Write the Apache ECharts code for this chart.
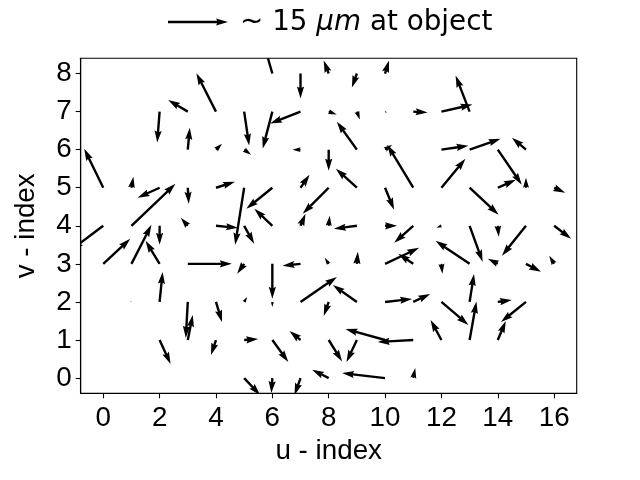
<!DOCTYPE html>
<html>
<head>
<meta charset="utf-8">
<script src="https://cdn.jsdelivr.net/npm/echarts@6/dist/echarts.min.js"></script>
<style>html,body{margin:0;padding:0;background:#fff}#c{width:640px;height:480px}</style>
</head>
<body>
<div id="c"></div>
<script>
// grid indices
const uIndex = [0,1,2,3,4,5,6,7,8,9,10,11,12,13,14,15,16];
const vIndex = [0,1,2,3,4,5,6,7,8];
const xTicks = [0,2,4,6,8,10,12,14,16];
const yTicks = [0,1,2,3,4,5,6,7,8];

// arrow components (µm at object), one row per v-index
const U0 = [0,0,0,0,0,4,-0.25,-1.5,-4.15,0,-10.75,0.5,0,0,0,0,0];
const V0 = [0,0,0,0,0,-4.25,-3.75,-4.25,2.1,0,1.25,2.5,0,0,0,0,0];
const U1 = [0,0,2.75,1.25,-1.25,3.5,4,-2.75,3.35,-2.6,-9.9,-8.9,-2.7,1.7,2,0,0];
const V1 = [0,0,-6,6.25,-3.75,0.25,-5.5,2.25,-5.4,-5.5,2.75,-0.5,5,9.6,4.75,0,0];
const U2 = [0,-0.25,0.75,-0.5,1.5,0.75,0,9.1,-1.25,-6,6.75,4.25,6.75,1.1,3.5,-6.25,0];
const V2 = [0,0.25,7.5,-9,-5,1.25,-1.25,6.25,-3.5,4.25,0.75,2,-5.75,7,0.5,-5,0];
const U3 = [6.75,5,-3.5,11,0,-1.75,0,-4.5,-1,0.25,8.5,-3.75,0.25,-8.5,-2.5,3.75,-1.25];
const V3 = [6.25,9.75,5.75,0,0,-2.5,-8.75,-0.5,1.5,3,4,2.5,-2.5,5.75,1.25,-2,2];
const U4 = [-8,11,0,-1.75,5.5,2.5,-4.5,1.25,0.25,-5.75,3,-4.75,-1.25,3.25,0.25,-6,4.25];
const V4 = [-6,10.5,-4.75,2,-0.5,-4.5,4.25,3,2.5,-0.75,0,-4.25,-0.5,-9,-2.75,-7.5,-3.25];
const U5 = [-4.75,0.5,-5.5,0.25,4.75,-2.25,-6.5,2.25,-6.5,-5.25,2.25,-6.5,6,7.25,4.5,0,2.75];
const V5 = [9.75,2.75,-2.5,-4,1.5,-14.25,-5.25,3.25,-6.5,4.75,-5.5,10.75,7.25,-6.75,2,2.5,-1.25];
const U6 = [0,0,0,0.5,1.5,1.75,0,-2,0,-5,1.75,0,6.75,7.75,6,-3.5,0];
const V6 = [0,0,0,5.5,1.5,-1.25,0,0,-5.25,7,1.25,0,1,2.75,-8.75,3,0];
const U7 = [0,0,-0.6,-4.9,-4.9,1.25,-2.4,-7.6,2,0.75,0.5,3.6,7.75,-3.5,0,0,0];
const V7 = [0,0,-7.75,2.9,9.6,-8.5,-9.25,-3,-0.75,-2,-0.25,-0.25,1.75,9,0,0,0];
const U8 = [0,0,0,0,0,0,-2,0,-1.25,-1.25,1,0,0,0,0,0,0];
const V8 = [0,0,0,0,0,0,7,-6.25,3.25,-3.5,3.25,0,0,0,0,0,0];

const keyValue = 15;
const keyLabelPre = '~ 15 ';
const keyLabelUnit = 'μm';
const keyLabelPost = ' at object';

const URows = [U0,U1,U2,U3,U4,U5,U6,U7,U8];
const VRows = [V0,V1,V2,V3,V4,V5,V6,V7,V8];

// style constants
const PX_PER_UNIT = 4;     // 15 µm -> 60 px
const W = 2.4;             // shaft width px

function arrowPoints(x0, y0, dx, dy) {
  const L = Math.hypot(dx, dy);
  if (L < 0.3) return null;
  const hl = 5 * W, hal = 4.5 * W, hw = 3 * W;
  const minsh = hl;
  let pts;
  if (L >= minsh) {
    pts = [[0, W/2],[L-hal, W/2],[L-hl, hw/2],[L,0],[L-hl,-hw/2],[L-hal,-W/2],[0,-W/2]];
  } else {
    const s = L / minsh;
    pts = [[0, W/2],[minsh-hal, W/2],[minsh-hl, hw/2],[minsh,0],[minsh-hl,-hw/2],[minsh-hal,-W/2],[0,-W/2]]
      .map(p => [p[0]*s, p[1]*s]);
  }
  const c = dx / L, s2 = dy / L;
  return pts.map(p => [x0 + p[0]*c - p[1]*s2, y0 + p[0]*s2 + p[1]*c]);
}

const data = [];
vIndex.forEach((v, j) => {
  uIndex.forEach((u, i) => {
    data.push([u, v, URows[j][i], VRows[j][i]]);
  });
});

const chart = echarts.init(document.getElementById('c'), null, {renderer: 'canvas'});
const AX_FONT = 'Liberation Sans, Arial, sans-serif';
chart.setOption({
  animation: false,
  backgroundColor: '#fff',
  grid: {left: 80.7, right: 63.3, top: 58.3, bottom: 86.7, show: true, borderColor: '#000', borderWidth: 1.1, backgroundColor: 'transparent'},
  xAxis: {
    type: 'value', min: -0.8, max: 16.8,
    name: 'u - index', nameLocation: 'middle', nameGap: 37,
    nameTextStyle: {fontFamily: AX_FONT, fontSize: 27.8, color: '#000'},
    axisLine: {show: true, onZero: false, lineStyle: {color: '#000', width: 1.1}},
    axisTick: {show: true, inside: false, length: 5, lineStyle: {color: '#000', width: 1.1}, customValues: xTicks},
    axisLabel: {fontFamily: AX_FONT, fontSize: 27.8, color: '#000', margin: 11, customValues: xTicks},
    splitLine: {show: false}
  },
  yAxis: {
    type: 'value', min: -0.4, max: 8.4,
    name: 'v - index', nameLocation: 'middle', nameGap: 40, nameRotate: 90,
    nameTextStyle: {fontFamily: AX_FONT, fontSize: 27.8, color: '#000'},
    axisLine: {show: true, onZero: false, lineStyle: {color: '#000', width: 1.1}},
    axisTick: {show: true, inside: false, length: 5, lineStyle: {color: '#000', width: 1.1}, customValues: yTicks},
    axisLabel: {fontFamily: AX_FONT, fontSize: 27.8, color: '#000', margin: 9, customValues: yTicks},
    splitLine: {show: false}
  },
  series: [{
    type: 'custom',
    clip: true,
    data: data,
    renderItem: function (params, api) {
      const p0 = api.coord([api.value(0), api.value(1)]);
      const dx = api.value(2) * PX_PER_UNIT;
      const dy = -api.value(3) * PX_PER_UNIT;
      const pts = arrowPoints(p0[0], p0[1], dx, dy);
      if (!pts) return null;
      return {type: 'polygon', shape: {points: pts}, style: {fill: '#000', stroke: null}};
    }
  }],
  graphic: [
    {type: 'polygon', shape: {points: arrowPoints(168, 22, keyValue * PX_PER_UNIT, 0)}, style: {fill: '#000'}},
    {type: 'text', x: 240, y: 23, style: {
      text: '{n|' + keyLabelPre + '}{i|' + keyLabelUnit + '}{n|' + keyLabelPost + '}',
      verticalAlign: 'middle', align: 'left',
      rich: {
        n: {fontFamily: 'DejaVu Sans', fontSize: 27.8, fill: '#000', color: '#000'},
        i: {fontFamily: 'DejaVu Sans', fontStyle: 'italic', fontSize: 27.8, fill: '#000', color: '#000'}
      }
    }}
  ]
});
</script>
</body>
</html>
